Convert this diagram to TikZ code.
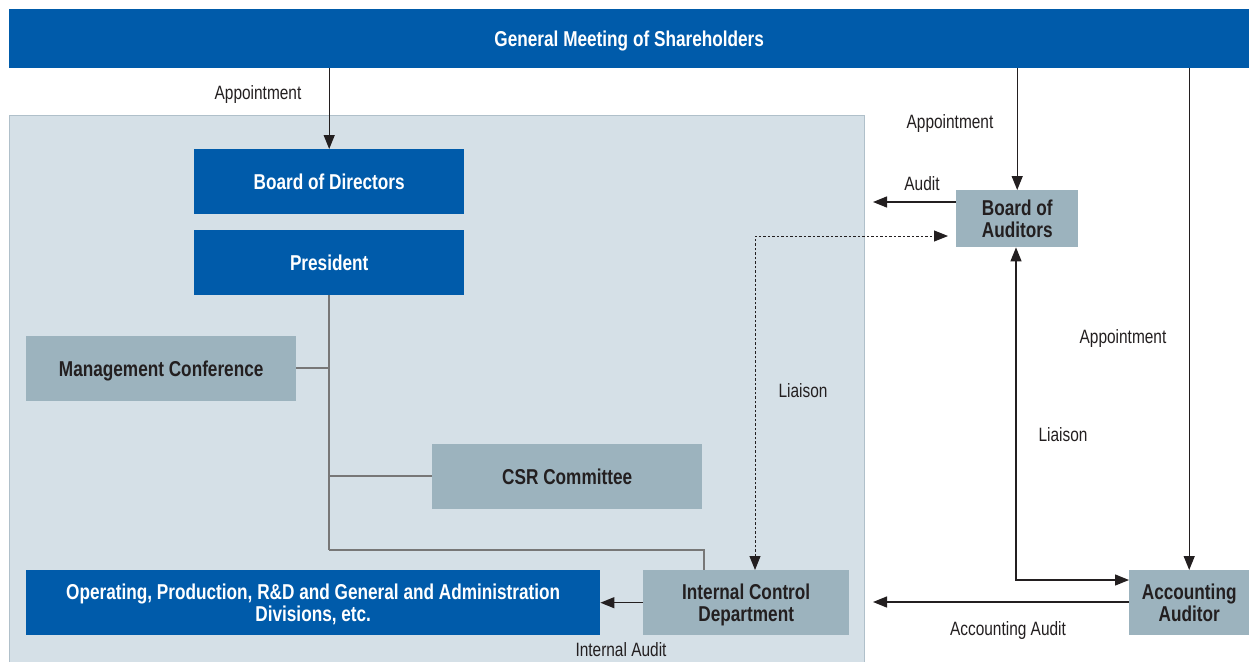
\documentclass[tikz,border=0pt]{standalone}
\usepackage{fontspec}
\setmainfont{Liberation Sans}[FakeStretch=0.8]
\usetikzlibrary{arrows.meta}
\definecolor{corpblue}{HTML}{005BAA}
\definecolor{boxgray}{HTML}{9CB3BE}
\definecolor{panel}{HTML}{D5E0E7}
\definecolor{panelline}{HTML}{B0C0CA}
\definecolor{ink}{HTML}{231F20}
\definecolor{linegray}{HTML}{777777}
\begin{document}
\begin{tikzpicture}[x=1pt,y=-1pt,
  tip/.tip={Triangle[length=14pt,width=11pt]},
  bluebox/.style={fill=corpblue,text=white,font=\fontsize{21.5}{22}\selectfont\bfseries,
    anchor=north west,inner sep=0pt,align=center,text depth=0pt},
  graybox/.style={fill=boxgray,text=ink,font=\fontsize{21.5}{22}\selectfont\bfseries,
    anchor=north west,inner sep=0pt,align=center,text depth=0pt},
  lbl/.style={text=ink,font=\fontsize{19.3}{21}\selectfont,inner sep=0pt},
  arr/.style={draw=ink,line width=1.3pt,-tip},
  twoarr/.style={draw=ink,line width=1.3pt,tip-tip},
  tree/.style={draw=linegray,line width=1.6pt}]
\useasboundingbox (0,0) rectangle (1249,661);
\fill[white] (0,0) rectangle (1249,661);
% inner company panel
\draw[fill=panel,draw=panelline,line width=1pt] (9,115) rectangle (864,662);
% boxes
\node[bluebox,minimum width=1240,minimum height=59] (gms) at (9,9) {General Meeting of Shareholders};
\node[bluebox,minimum width=270,minimum height=65] (bod) at (194,149) {Board of Directors};
\node[bluebox,minimum width=270,minimum height=65] (pres) at (194,230) {President};
\node[graybox,minimum width=270,minimum height=65] (mc) at (26,336) {Management Conference};
\node[graybox,minimum width=270,minimum height=65] (csr) at (432,444) {CSR Committee};
\node[bluebox,minimum width=574,minimum height=65] (ops) at (26,570) {Operating, Production, R\&D and General and Administration\\Divisions, etc.};
\node[graybox,minimum width=206,minimum height=65] (icd) at (643,570) {Internal Control\\Department};
\node[graybox,minimum width=122,minimum height=57] (boa) at (956,190) {Board of\\Auditors};
\node[graybox,minimum width=120,minimum height=65] (aa) at (1129,570) {Accounting\\Auditor};
% helper points
\coordinate (j1) at (329,368);
\coordinate (j2) at (329,476);
\coordinate (j3) at (329,550);
\coordinate (j4) at (704,550);
\coordinate (dl) at (755,236);
\coordinate (lc) at (1016,580);
\coordinate (auditEnd) at (873,202);
\coordinate (accEnd) at (873,602);
% tree below the president
\draw[tree] (pres.south -| j1) -- (j3);
\draw[tree] (mc.east |- j1) -- (j1);
\draw[tree] (j2) -- (csr.west |- j2);
\draw[tree] (j3) -- (j4) -- (icd.north -| j4);
% appointments
\draw[arr] (gms.south -| bod.north) -- (bod.north);
\draw[arr] (gms.south -| boa.north) -- (boa.north);
\draw[arr] (gms.south -| aa.north) -- (aa.north);
% audits
\draw[arr] (icd.west |- ops.east) -- (ops.east);
\draw[arr] (boa.west |- auditEnd) -- (auditEnd);
\draw[arr] (aa.west |- accEnd) -- (accEnd);
% liaisons
\draw[twoarr] (boa.south -| lc) -- (lc) -- (aa.west |- lc);
\draw[draw=ink,line width=1pt,dash pattern=on 2.5pt off 2pt,tip-tip]
  (icd.north -| dl) -- (dl) -- ([xshift=-8pt]boa.west |- dl);
% labels
\node[lbl] (l1) at (258,95) {Appointment};
\node[lbl] (l2) at (950,124) {Appointment};
\node[lbl] (l3) at (1123,339) {Appointment};
\node[lbl] (l4) at (922,184) {Audit};
\node[lbl] (l5) at (803,391) {Liaison};
\node[lbl] (l6) at (1063,435) {Liaison};
\node[lbl] (l7) at (1008,631) {Accounting Audit};
\node[lbl] (l8) at (621,650) {Internal Audit};
\end{tikzpicture}
\end{document}
